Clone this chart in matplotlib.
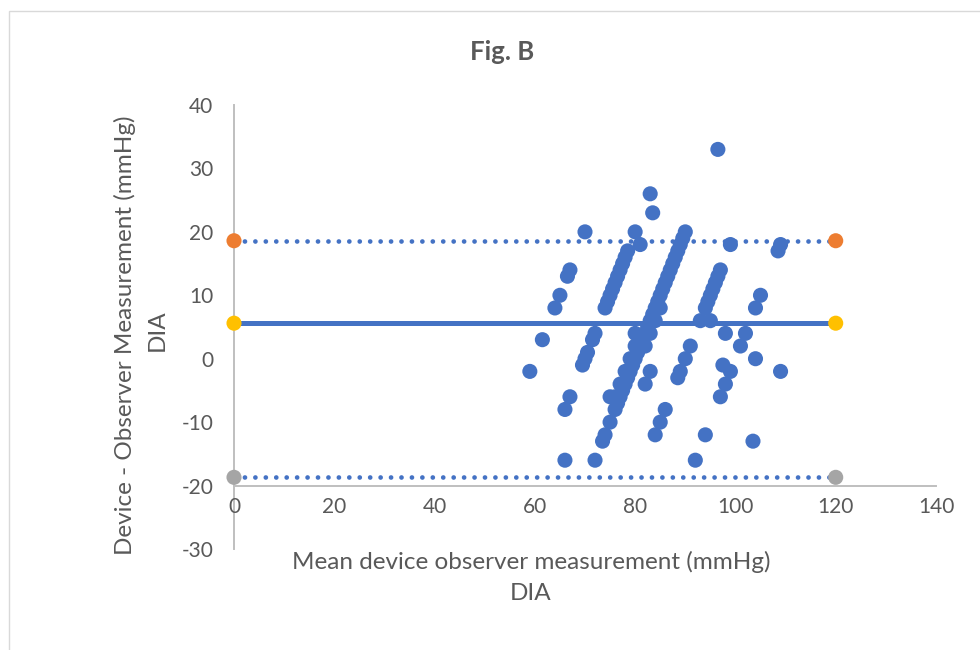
import matplotlib
matplotlib.use('Agg')
import matplotlib.pyplot as plt
from matplotlib.patches import Rectangle

# Bland-Altman, diastolic (DIA)
mean_bp = [59, 61.5, 64, 65, 66.5, 67, 70, 66, 67, 66, 72,
           69.5, 70, 70.5, 71.5, 72,
           74, 74.5, 75, 75.5, 76, 76.5, 77, 77.5, 78, 78.5,
           75, 80, 81, 80, 83, 82, 83, 83.5,
           73.5, 74, 75, 76, 76.5, 77, 77.5, 78, 78.5, 79, 79.5, 80, 80.5, 81, 81.5,
           82, 82.5, 83, 83.5, 84, 84.5, 85, 85.5, 86, 86.5, 87, 87.5, 88, 88.5, 89, 89.5, 90,
           76, 77, 78, 79, 80, 82, 83, 84, 85,
           84, 85, 86, 88.5, 89, 90, 91, 93, 94, 94.5, 95, 95.5, 96, 96.5, 97,
           95, 96.5, 99, 109, 108.5, 105, 104, 98, 102, 101, 104, 97.5, 99, 98, 97,
           109, 94, 103.5, 92]
diff_bp = [-2, 3, 8, 10, 13, 14, 20, -8, -6, -16, -16,
           -1, 0, 1, 3, 4,
           8, 9, 10, 11, 12, 13, 14, 15, 16, 17,
           -6, 20, 18, 4, -2, -4, 26, 23,
           -13, -12, -10, -8, -7, -6, -5, -4, -3, -2, -1, 0, 1, 2, 3,
           4, 5, 6, 7, 8, 9, 10, 11, 12, 13, 14, 15, 16, 17, 18, 19, 20,
           -6, -4, -2, 0, 2, 2, 4, 6, 8,
           -12, -10, -8, -3, -2, 0, 2, 6, 8, 9, 10, 11, 12, 13, 14,
           6, 33, 18, 18, 17, 10, 8, 4, 4, 2, 0, -1, -2, -4, -6,
           -2, -12, -13, -16]

mean_diff = 5.6
upper_loa = 18.6
lower_loa = -18.7
line_x = [0, 120]

x_ticks = [0, 20, 40, 60, 80, 100, 120, 140]
y_ticks = [-30, -20, -10, 0, 10, 20, 30, 40]

BLUE = '#4472C4'
ORANGE = '#ED7D31'
YELLOW = '#FFC000'
GRAY = '#A5A5A5'
TXT = '#595959'

plt.rcParams['font.family'] = ['Lato', 'DejaVu Sans']
plt.rcParams['axes.unicode_minus'] = False

fig = plt.figure(figsize=(9.8, 6.5), dpi=100)
ax = fig.add_axes([234/980, 1-549/650, 702/980, 444/650])
ax.set_xlim(0, 140)
ax.set_ylim(-30, 40)

dots = (0, (0.01, 2.2))
ax.plot(line_x, [upper_loa]*2, color=BLUE, lw=3.4, ls=dots, dash_capstyle='round', zorder=2)
ax.plot(line_x, [lower_loa]*2, color=BLUE, lw=3.4, ls=dots, dash_capstyle='round', zorder=2)
ax.plot(line_x, [mean_diff]*2, color=BLUE, lw=3.6, zorder=2)

ax.scatter(mean_bp, diff_bp, s=118, color=BLUE, edgecolors='none', zorder=3, clip_on=False)

ax.scatter(line_x, [upper_loa]*2, s=118, color=ORANGE, edgecolors='none', zorder=4, clip_on=False)
ax.scatter(line_x, [mean_diff]*2, s=118, color=YELLOW, edgecolors='none', zorder=4, clip_on=False)
ax.scatter(line_x, [lower_loa]*2, s=118, color=GRAY, edgecolors='none', zorder=4, clip_on=False)

for s in ['top', 'right']:
    ax.spines[s].set_visible(False)
ax.spines['bottom'].set_position(('data', -20))
for s in ['left', 'bottom']:
    ax.spines[s].set_color('#BFBFBF')
    ax.spines[s].set_linewidth(1.4)
    ax.spines[s].set_zorder(1)

ax.set_xticks(x_ticks)
ax.set_yticks(y_ticks)
ax.tick_params(length=0, labelsize=15, labelcolor=TXT)
ax.tick_params(axis='y', pad=15)
ax.tick_params(axis='x', pad=8)

fig.text(502/980, 1-52/650, 'Fig. B', fontsize=18.5, fontweight='bold', color=TXT, ha='center', va='center')
fig.text(531/980, 1-562/650, 'Mean device observer measurement (mmHg)', fontsize=17.5, color=TXT, ha='center', va='center')
fig.text(531/980, 1-593/650, 'DIA', fontsize=17.5, color=TXT, ha='center', va='center')
fig.text(125/980, 1-335/650, 'Device - Observer Measurement (mmHg)', fontsize=17.5, color=TXT,
         rotation=90, ha='center', va='center')
fig.text(157/980, 1-330/650, 'DIA', fontsize=17.5, color=TXT, rotation=90, ha='center', va='center')

fig.patches.append(Rectangle((9/980, -0.05), 1.2, 1.05 - 11/650, transform=fig.transFigure,
                             fill=False, ec='#D9D9D9', lw=1))

fig.savefig('out.png', dpi=100)
